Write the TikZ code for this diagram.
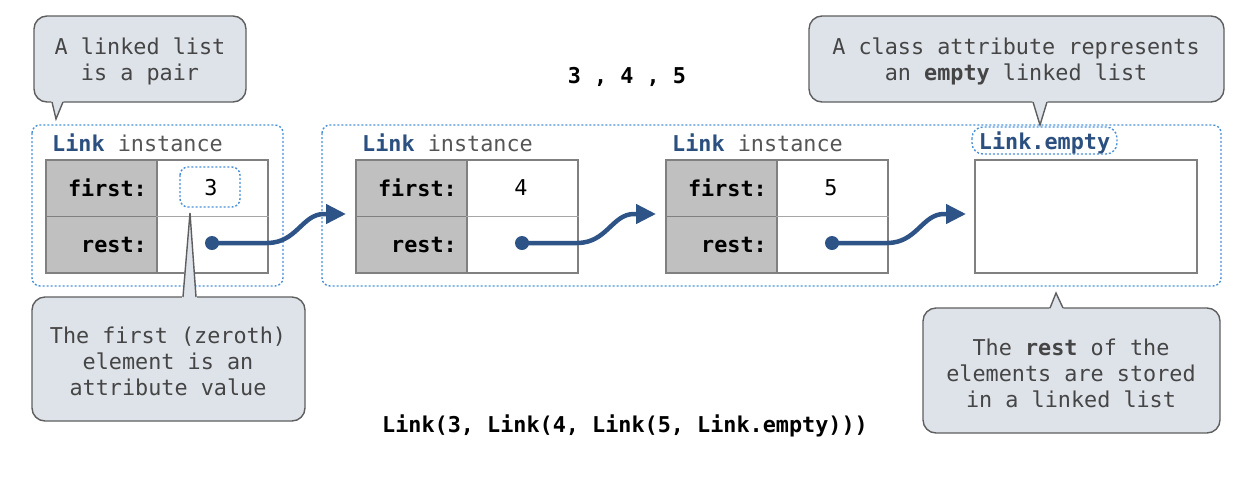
\documentclass[tikz,border=0pt]{standalone}
\usepackage{fontspec}
\setmainfont{DejaVu Sans Mono}
\usetikzlibrary{arrows.meta,calc}
\definecolor{notefill}{HTML}{DEE3EA}
\definecolor{noteline}{HTML}{5E5E5E}
\definecolor{notetext}{HTML}{454545}
\definecolor{linkblue}{HTML}{2B5080}
\definecolor{instgray}{HTML}{555555}
\definecolor{ptrblue}{HTML}{2E5487}
\definecolor{frameblue}{HTML}{4A90D9}
\definecolor{cellgray}{HTML}{C0C0C0}
\definecolor{cellline}{HTML}{808080}
\newcommand\diagfont{\fontsize{21.8}{26}\selectfont}

\begin{document}
\begin{tikzpicture}[x=1pt,y=-1pt,font=\diagfont,inner sep=0pt,
  frame/.style={draw=frameblue,dash pattern=on 2pt off 2pt,line width=1.4pt,rounded corners=8pt},
  note/.style={draw=noteline,fill=notefill,line width=1.4pt,rounded corners=13pt},
  notetail/.style={draw=noteline,line width=1.4pt,line join=miter},
  notetxt/.style={text=notetext,align=center},
  keycell/.style={draw=cellline,fill=cellgray,line width=1.8pt,minimum width=111pt,minimum height=113pt,anchor=north west},
  valcell/.style={draw=cellline,fill=white,line width=1.8pt,minimum width=111pt,minimum height=113pt,anchor=north west},
  keytxt/.style={anchor=base east,font=\diagfont\bfseries},
  ptr/.style={draw=ptrblue,line width=4.5pt,-{Triangle[length=20pt,width=19pt]}},
  ptrdot/.style={circle,fill=ptrblue,minimum size=14pt},
  instlabel/.style={anchor=base west}]

\useasboundingbox (0,0) rectangle (1257,480);

% dotted frames around the instances
\draw[frame] (32,125) rectangle (283,286);
\draw[frame] (322,125) rectangle (1221,286);

% the three Link instances
\foreach \n/\x/\v in {1/45/3,2/355/4,3/665/5}{
  \node[keycell] (k\n) at (\x,159) {};
  \node[valcell] (v\n) at ({\x+111},159) {};
  \draw[cellline,line width=1.8pt] (k\n.west) -- (k\n.east);
  \draw[cellline!70,line width=1.4pt] (v\n.west) -- (v\n.east);
  \node[keytxt] (kf\n) at ({\x+102},196) {first:};
  \node[keytxt] (kr\n) at ({\x+102},252) {rest:};
  \node[ptrdot] (d\n) at ({\x+167},243) {};
  \node[instlabel] (lab\n) at ({\x+7},151) {\textcolor{linkblue}{\bfseries Link} \textcolor{instgray}{instance}};
}
\node (val1) at (211,188) {3};
\draw[frameblue,dash pattern=on 2pt off 2pt,line width=1.4pt,rounded corners=8pt] (180,167) rectangle (240,207);
\node (val2) at (521,188) {4};
\node (val3) at (831,188) {5};

% the empty list
\node[draw=cellline,line width=1.8pt,minimum width=222pt,minimum height=113pt,anchor=north west] (empty) at (974,159) {};
\draw[frame,rounded corners=11pt] (972,127) rectangle (1117,154);
\node (emptylab) at (1044.5,142.5) {\textcolor{linkblue}{\bfseries Link.empty}};

% pointers from each rest slot
\coordinate (a1) at (346,214);
\coordinate (a2) at (656,214);
\coordinate (a3) at (966,214);
\foreach \n in {1,2,3}{
  \draw[ptr] (d\n.center) -- ($(d\n.center)+(55,0)$) .. controls +(30,0) and +(-22,0) .. ($(a\n)+(-22,0)$) -- (a\n);
}

% header and constructor expression
\node (seq) at (627,77) {\bfseries 3 , 4 , 5};
\node (expr) at (625,426) {\bfseries Link(3, Link(4, Link(5, Link.empty)))};

% note: a linked list is a pair
\draw[note] (34,16) rectangle (246,102);
\fill[notefill] (51,100) -- (64,100) -- (56,119) -- cycle;
\draw[notetail] (52,102) -- (56,119) -- (63,102);
\node[notetxt] (c1) at (140,61) {A linked list\\is a pair};

% note: first element
\draw[note] (32,297) rectangle (305,421);
\fill[notefill] (182,299) -- (197,299) -- (190,213) -- cycle;
\draw[notetail] (183,297) -- (190,213) -- (196,297);
\node[notetxt] (c2) at (168,361) {The first (zeroth)\\element is an\\attribute value};

% note: class attribute
\draw[note] (809,16) rectangle (1224,102);
\fill[notefill] (1032,100) -- (1048,100) -- (1040,125) -- cycle;
\draw[notetail] (1033,102) -- (1040,125) -- (1047,102);
\node[notetxt] (c3) at (1016,61) {A class attribute represents\\an \textbf{empty} linked list};

% note: rest of the elements
\draw[note] (923,308) rectangle (1220,433);
\fill[notefill] (1049,310) -- (1064,310) -- (1056,293) -- cycle;
\draw[notetail] (1050,308) -- (1056,293) -- (1063,308);
\node[notetxt] (c4) at (1071,373) {The \textbf{rest} of the\\elements are stored\\in a linked list};

\end{tikzpicture}
\end{document}
